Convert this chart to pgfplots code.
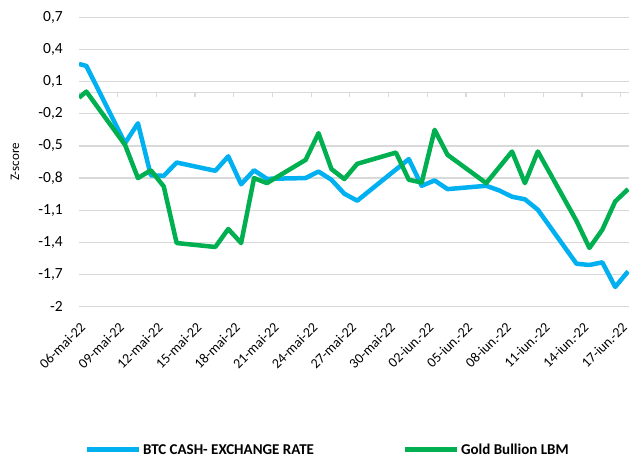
\documentclass[border=0pt]{standalone}
\usepackage{pgfplots}
\pgfplotsset{compat=1.18}
\usepackage{fontspec}
\setmainfont{Carlito}
\definecolor{btcblue}{HTML}{00B0F0}
\definecolor{goldgreen}{HTML}{00B050}
\definecolor{gridgray}{HTML}{D9D9D9}
\begin{document}
\begin{tikzpicture}
\useasboundingbox (0,0) rectangle (630bp,457bp);
\begin{axis}[
  at={(79bp,150.3bp)}, anchor=south west,
  scale only axis, width=550bp, height=289.4bp,
  xmin=0, xmax=42.64, ymin=-2, ymax=0.7,
  clip=true,
  axis line style={draw=none},
  major tick length=0pt,
  ytick={-2,-1.7,-1.4,-1.1,-0.8,-0.5,-0.2,0.1,0.4,0.7},
  yticklabels={-2,{-1,7},{-1,4},{-1,1},{-0,8},{-0,5},{-0,2},{0,1},{0,4},{0,7}},
  ymajorgrids, grid style={gridgray, line width=1.3bp},
  xtick={0,3,...,42},
  xticklabels={06-mai-22,09-mai-22,12-mai-22,15-mai-22,18-mai-22,21-mai-22,24-mai-22,27-mai-22,30-mai-22,02-iun.-22,05-iun.-22,08-iun.-22,11-iun.-22,14-iun.-22,17-iun.-22},
  xticklabel style={xshift=4bp, yshift=-18bp, rotate=45, anchor=east, inner sep=0pt, font=\fontsize{14bp}{16bp}\selectfont},
  yticklabel style={anchor=east, inner sep=0pt, xshift=-16bp, font=\fontsize{15.5bp}{18bp}\selectfont},
  legend style={at={(0.009,-0.495)}, anchor=west, draw=none, fill=none, inner sep=0pt,
    legend columns=2, font=\bfseries\fontsize{15bp}{17bp}\selectfont,
    /tikz/every even column/.append style={column sep=86bp},
    nodes={inner xsep=2bp, inner ysep=0.5bp}},
  legend cell align=left,
  legend image code/.code={\draw[#1, line width=5bp] (0bp,0bp) -- (52bp,0bp);},
]
\draw[gridgray, line width=1.3bp] (axis cs:0,0) -- (axis cs:42.64,0);
\pgfplotsinvokeforeach{0,3,...,42}{\draw[gridgray, line width=1.2bp] (axis cs:#1,0) -- ([yshift=-5bp]axis cs:#1,0);}
\addplot[btcblue, line width=4.5bp, line join=round] table {
x y
0 0.265
0.57 0.246
3.57 -0.474
4.57 -0.289
5.57 -0.774
6.57 -0.779
7.57 -0.655
10.57 -0.732
11.57 -0.597
12.57 -0.858
13.57 -0.727
14.57 -0.807
17.57 -0.800
18.57 -0.739
19.57 -0.816
20.57 -0.946
21.57 -1.011
24.57 -0.72
25.57 -0.623
26.57 -0.872
27.57 -0.822
28.57 -0.903
31.57 -0.872
32.57 -0.915
33.57 -0.974
34.57 -0.998
35.57 -1.095
38.57 -1.599
39.57 -1.611
40.57 -1.586
41.57 -1.816
42.57 -1.670
};
\addlegendentry{BTC CASH- EXCHANGE RATE}
\addplot[goldgreen, line width=4.5bp, line join=round] table {
x y
0 -0.05
0.57 0.007
3.57 -0.490
4.57 -0.800
5.57 -0.727
6.57 -0.878
7.57 -1.406
10.57 -1.443
11.57 -1.275
12.57 -1.406
13.57 -0.800
14.57 -0.847
17.57 -0.630
18.57 -0.381
19.57 -0.716
20.57 -0.809
21.57 -0.667
24.57 -0.562
25.57 -0.816
26.57 -0.841
27.57 -0.350
28.57 -0.583
31.57 -0.847
32.57 -0.70
33.57 -0.552
34.57 -0.847
35.57 -0.552
38.57 -1.20
39.57 -1.452
40.57 -1.282
41.57 -1.018
42.57 -0.903
};
\addlegendentry{Gold Bullion LBM}
\end{axis}
\node[rotate=90, font=\fontsize{13bp}{15bp}\selectfont] at (15bp,295bp) {Z-score};
\end{tikzpicture}
\end{document}
